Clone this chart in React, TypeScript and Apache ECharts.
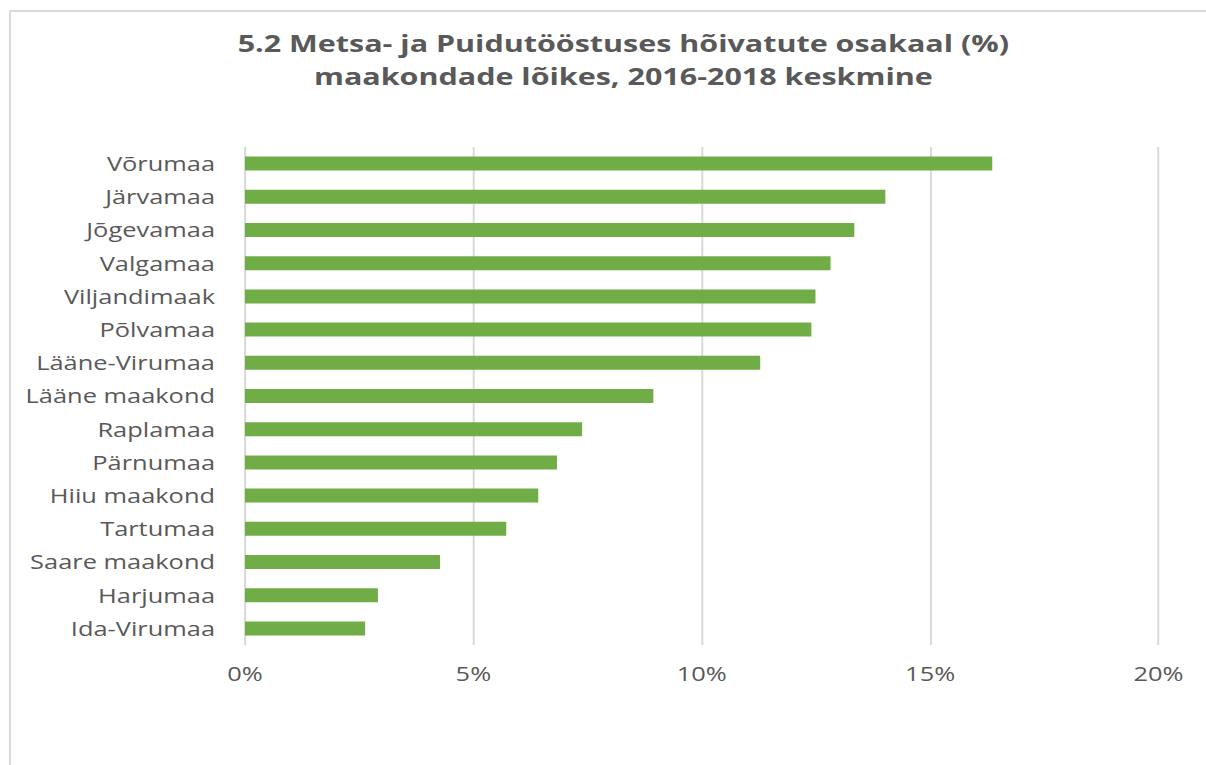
import React, { useEffect, useRef } from "react";
import * as echarts from "echarts";

const categories = [
  "Võrumaa",
  "Järvamaa",
  "Jõgevamaa",
  "Valgamaa",
  "Viljandimaak",
  "Põlvamaa",
  "Lääne-Virumaa",
  "Lääne maakond",
  "Raplamaa",
  "Pärnumaa",
  "Hiiu maakond",
  "Tartumaa",
  "Saare maakond",
  "Harjumaa",
  "Ida-Virumaa",
];
const values = [16.36, 14.02, 13.34, 12.82, 12.49, 12.4, 11.28, 8.94, 7.38, 6.83, 6.42, 5.72, 4.27, 2.91, 2.63];
const titleLines = [
  "5.2 Metsa- ja Puidutööstuses hõivatute osakaal (%)",
  "maakondade lõikes, 2016-2018 keskmine",
];

const SX = 1.27;
const W = 1206 / SX;

export default function App() {
  const ref = useRef<HTMLDivElement>(null);
  useEffect(() => {
    document.body.style.margin = "0";
    const chart = echarts.init(ref.current!, null, { renderer: "svg" });
    const font = "'Open Sans', sans-serif";
    chart.setOption({
      animation: false,
      backgroundColor: "#ffffff",
      title: {
        text: titleLines.join("\n"),
        left: 617 / SX,
        top: 21,
        textAlign: "center",
        textStyle: {
          fontFamily: font,
          fontSize: 24,
          fontWeight: "bold",
          color: "#595959",
          lineHeight: 33,
        },
      },
      graphic: [
        { type: "line", shape: { x1: 10 / SX, y1: 11, x2: W, y2: 11 }, style: { stroke: "#d9d9d9", lineWidth: 2 } },
        { type: "line", shape: { x1: 10 / SX, y1: 11, x2: 10 / SX, y2: 765 }, style: { stroke: "#d9d9d9", lineWidth: 2 / SX } },
      ],
      grid: { left: 245 / SX, right: 48 / SX, top: 147, bottom: 120, containLabel: false },
      xAxis: {
        type: "value",
        min: 0,
        max: 20,
        interval: 5,
        axisLine: { show: false },
        axisTick: { show: false },
        splitLine: { show: true, lineStyle: { color: "#d9d9d9", width: 2 / SX } },
        axisLabel: {
          formatter: (v: number) => v + "%",
          fontFamily: font,
          fontSize: 20,
          color: "#595959",
          margin: 19,
        },
      },
      yAxis: {
        type: "category",
        data: categories,
        inverse: true,
        axisLine: { show: true, lineStyle: { color: "#d9d9d9", width: 2 / SX } },
        axisTick: { show: false },
        axisLabel: {
          fontFamily: font,
          fontSize: 20,
          color: "#595959",
          margin: 30 / SX,
        },
      },
      series: [
        {
          type: "bar",
          data: values,
          barWidth: 14,
          itemStyle: { color: "#70ad47" },
        },
      ],
    });
    return () => chart.dispose();
  }, []);
  return (
    <div
      ref={ref}
      style={{ width: W, height: 765, transform: `scaleX(${SX})`, transformOrigin: "0 0" }}
    />
  );
}
